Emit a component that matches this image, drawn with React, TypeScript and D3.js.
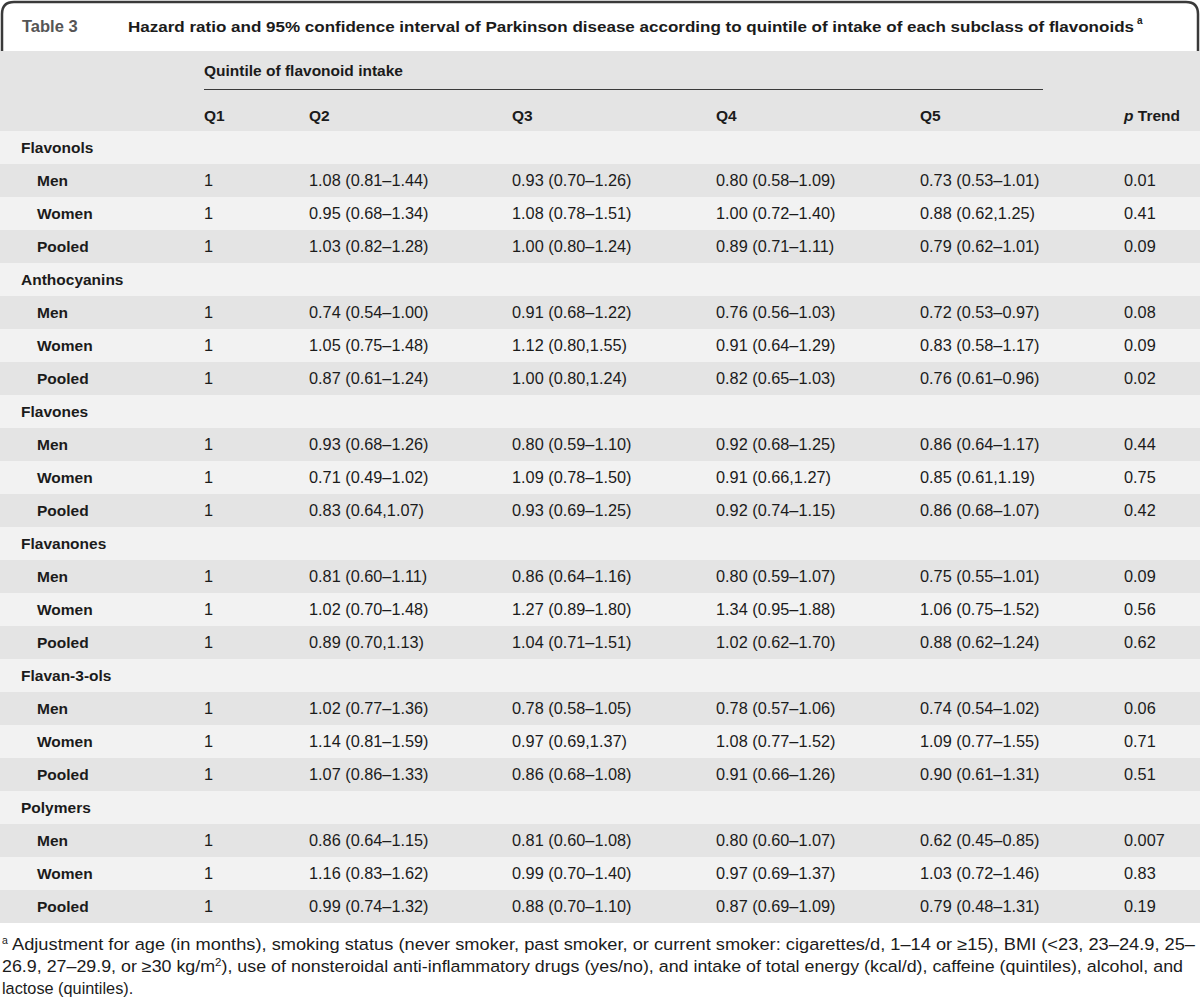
import React from "react";
import * as d3 from "d3";

const title = "Hazard ratio and 95% confidence interval of Parkinson disease according to quintile of intake of each subclass of flavonoids";
const tableLabel = "Table 3";
const spanHeader = "Quintile of flavonoid intake";
const columns = ["Q1", "Q2", "Q3", "Q4", "Q5", "pTrend"];
const subclasses = ["Flavonols", "Anthocyanins", "Flavones", "Flavanones", "Flavan-3-ols", "Polymers"];
const groups = ["Men", "Women", "Pooled"];

const flavonols = [
  ["1", "1.08 (0.81–1.44)", "0.93 (0.70–1.26)", "0.80 (0.58–1.09)", "0.73 (0.53–1.01)", "0.01"],
  ["1", "0.95 (0.68–1.34)", "1.08 (0.78–1.51)", "1.00 (0.72–1.40)", "0.88 (0.62,1.25)", "0.41"],
  ["1", "1.03 (0.82–1.28)", "1.00 (0.80–1.24)", "0.89 (0.71–1.11)", "0.79 (0.62–1.01)", "0.09"],
];
const anthocyanins = [
  ["1", "0.74 (0.54–1.00)", "0.91 (0.68–1.22)", "0.76 (0.56–1.03)", "0.72 (0.53–0.97)", "0.08"],
  ["1", "1.05 (0.75–1.48)", "1.12 (0.80,1.55)", "0.91 (0.64–1.29)", "0.83 (0.58–1.17)", "0.09"],
  ["1", "0.87 (0.61–1.24)", "1.00 (0.80,1.24)", "0.82 (0.65–1.03)", "0.76 (0.61–0.96)", "0.02"],
];
const flavones = [
  ["1", "0.93 (0.68–1.26)", "0.80 (0.59–1.10)", "0.92 (0.68–1.25)", "0.86 (0.64–1.17)", "0.44"],
  ["1", "0.71 (0.49–1.02)", "1.09 (0.78–1.50)", "0.91 (0.66,1.27)", "0.85 (0.61,1.19)", "0.75"],
  ["1", "0.83 (0.64,1.07)", "0.93 (0.69–1.25)", "0.92 (0.74–1.15)", "0.86 (0.68–1.07)", "0.42"],
];
const flavanones = [
  ["1", "0.81 (0.60–1.11)", "0.86 (0.64–1.16)", "0.80 (0.59–1.07)", "0.75 (0.55–1.01)", "0.09"],
  ["1", "1.02 (0.70–1.48)", "1.27 (0.89–1.80)", "1.34 (0.95–1.88)", "1.06 (0.75–1.52)", "0.56"],
  ["1", "0.89 (0.70,1.13)", "1.04 (0.71–1.51)", "1.02 (0.62–1.70)", "0.88 (0.62–1.24)", "0.62"],
];
const flavan3ols = [
  ["1", "1.02 (0.77–1.36)", "0.78 (0.58–1.05)", "0.78 (0.57–1.06)", "0.74 (0.54–1.02)", "0.06"],
  ["1", "1.14 (0.81–1.59)", "0.97 (0.69,1.37)", "1.08 (0.77–1.52)", "1.09 (0.77–1.55)", "0.71"],
  ["1", "1.07 (0.86–1.33)", "0.86 (0.68–1.08)", "0.91 (0.66–1.26)", "0.90 (0.61–1.31)", "0.51"],
];
const polymers = [
  ["1", "0.86 (0.64–1.15)", "0.81 (0.60–1.08)", "0.80 (0.60–1.07)", "0.62 (0.45–0.85)", "0.007"],
  ["1", "1.16 (0.83–1.62)", "0.99 (0.70–1.40)", "0.97 (0.69–1.37)", "1.03 (0.72–1.46)", "0.83"],
  ["1", "0.99 (0.74–1.32)", "0.88 (0.70–1.10)", "0.87 (0.69–1.09)", "0.79 (0.48–1.31)", "0.19"],
];
const subclassValues = [flavonols, anthocyanins, flavones, flavanones, flavan3ols, polymers];

const footnoteLines = [
  "Adjustment for age (in months), smoking status (never smoker, past smoker, or current smoker: cigarettes/d, 1–14 or ≥15), BMI (<23, 23–24.9, 25–",
  "26.9, 27–29.9, or ≥30 kg/m",
  "lactose (quintiles).",
];

type Row = { kind: "head" | "data"; label: string; cells: string[]; dark: boolean };

export default function App() {
  const W = 1200;
  const H = 1004;
  const rows: Row[] = [];
  subclasses.forEach((s, i) => {
    rows.push({ kind: "head", label: s, cells: [], dark: false });
    groups.forEach((g, j) => {
      rows.push({ kind: "data", label: g, cells: subclassValues[i][j], dark: j !== 1 });
    });
  });

  const y = d3.scaleBand<number>().domain(d3.range(rows.length)).range([131, 923]).padding(0);
  const x = d3.scaleOrdinal<string, number>().domain(columns).range([204, 309, 512, 716, 920, 1124]);

  const ink = "#1b1b1b";
  const font = "'Liberation Sans', Arial, sans-serif";
  const dark = "#e4e4e4";
  const light = "#f2f2f2";
  const fs = 16.3;

  return (
    <svg width={W} height={H} style={{ position: "absolute", left: 0, top: 0, display: "block" }} fontFamily={font}>
      <rect x={0} y={0} width={W} height={H} fill="#ffffff" />
      {/* title tab */}
      <path d="M2,52 L2,14 Q2,2 14,2 L1186,2 Q1198,2 1198,14 L1198,52" fill="#ffffff" stroke="#3a3a3a" strokeWidth={2.5} />
      <text x={22} y={32} fontSize={16.5} fontWeight="bold" fill="#555">{tableLabel}</text>
      <text x={128} y={32} fontSize={15.5} fontWeight="bold" fill={ink} textLength={1006} lengthAdjust="spacingAndGlyphs">{title}</text>
      <text x={1137} y={24} fontSize={10} fontWeight="bold" fill={ink}>a</text>
      {/* header */}
      <rect x={0} y={51} width={W} height={80} fill={dark} />
      <text x={x("Q1")} y={76} fontSize={15.5} fontWeight="bold" fill={ink}>{spanHeader}</text>
      <line x1={x("Q1")} x2={1043} y1={89.5} y2={89.5} stroke="#3a3a3a" strokeWidth={1.2} />
      {columns.map((c) => (
        <text key={c} x={x(c)} y={121} fontSize={15.5} fontWeight="bold" fill={ink}>
          {c === "pTrend" ? (
            <>
              <tspan fontStyle="italic">p</tspan>
              <tspan> Trend</tspan>
            </>
          ) : c}
        </text>
      ))}
      {/* body */}
      {rows.map((r, i) => {
        const top = y(i)!;
        const cy = top + y.bandwidth() / 2 + 5.5;
        return (
          <g key={i}>
            <rect x={0} y={top} width={W} height={y.bandwidth()} fill={r.dark ? dark : light} />
            <text x={r.kind === "head" ? 21 : 37} y={cy} fontSize={15.5} fontWeight="bold" fill={ink}>{r.label}</text>
            {r.cells.map((v, k) => (
              <text key={k} x={x(columns[k])} y={cy} fontSize={fs} fill={ink}>{v}</text>
            ))}
          </g>
        );
      })}
      {/* footnote */}
      <text x={2} y={950} fontSize={fs} fill={ink}>
        <tspan fontSize={10.5} dy={-6}>a</tspan>
      </text>
      <text x={12} y={950} fontSize={fs} fill={ink} textLength={1183} lengthAdjust="spacingAndGlyphs">{footnoteLines[0]}</text>
      <text x={2} y={972} fontSize={fs} fill={ink} textLength={1181} lengthAdjust="spacingAndGlyphs">
        {footnoteLines[1]}
        <tspan fontSize={10.5} dy={-6}>2</tspan>
        <tspan dy={6}>), use of nonsteroidal anti-inflammatory drugs (yes/no), and intake of total energy (kcal/d), caffeine (quintiles), alcohol, and</tspan>
      </text>
      <text x={2} y={994} fontSize={fs} fill={ink}>{footnoteLines[2]}</text>
    </svg>
  );
}
